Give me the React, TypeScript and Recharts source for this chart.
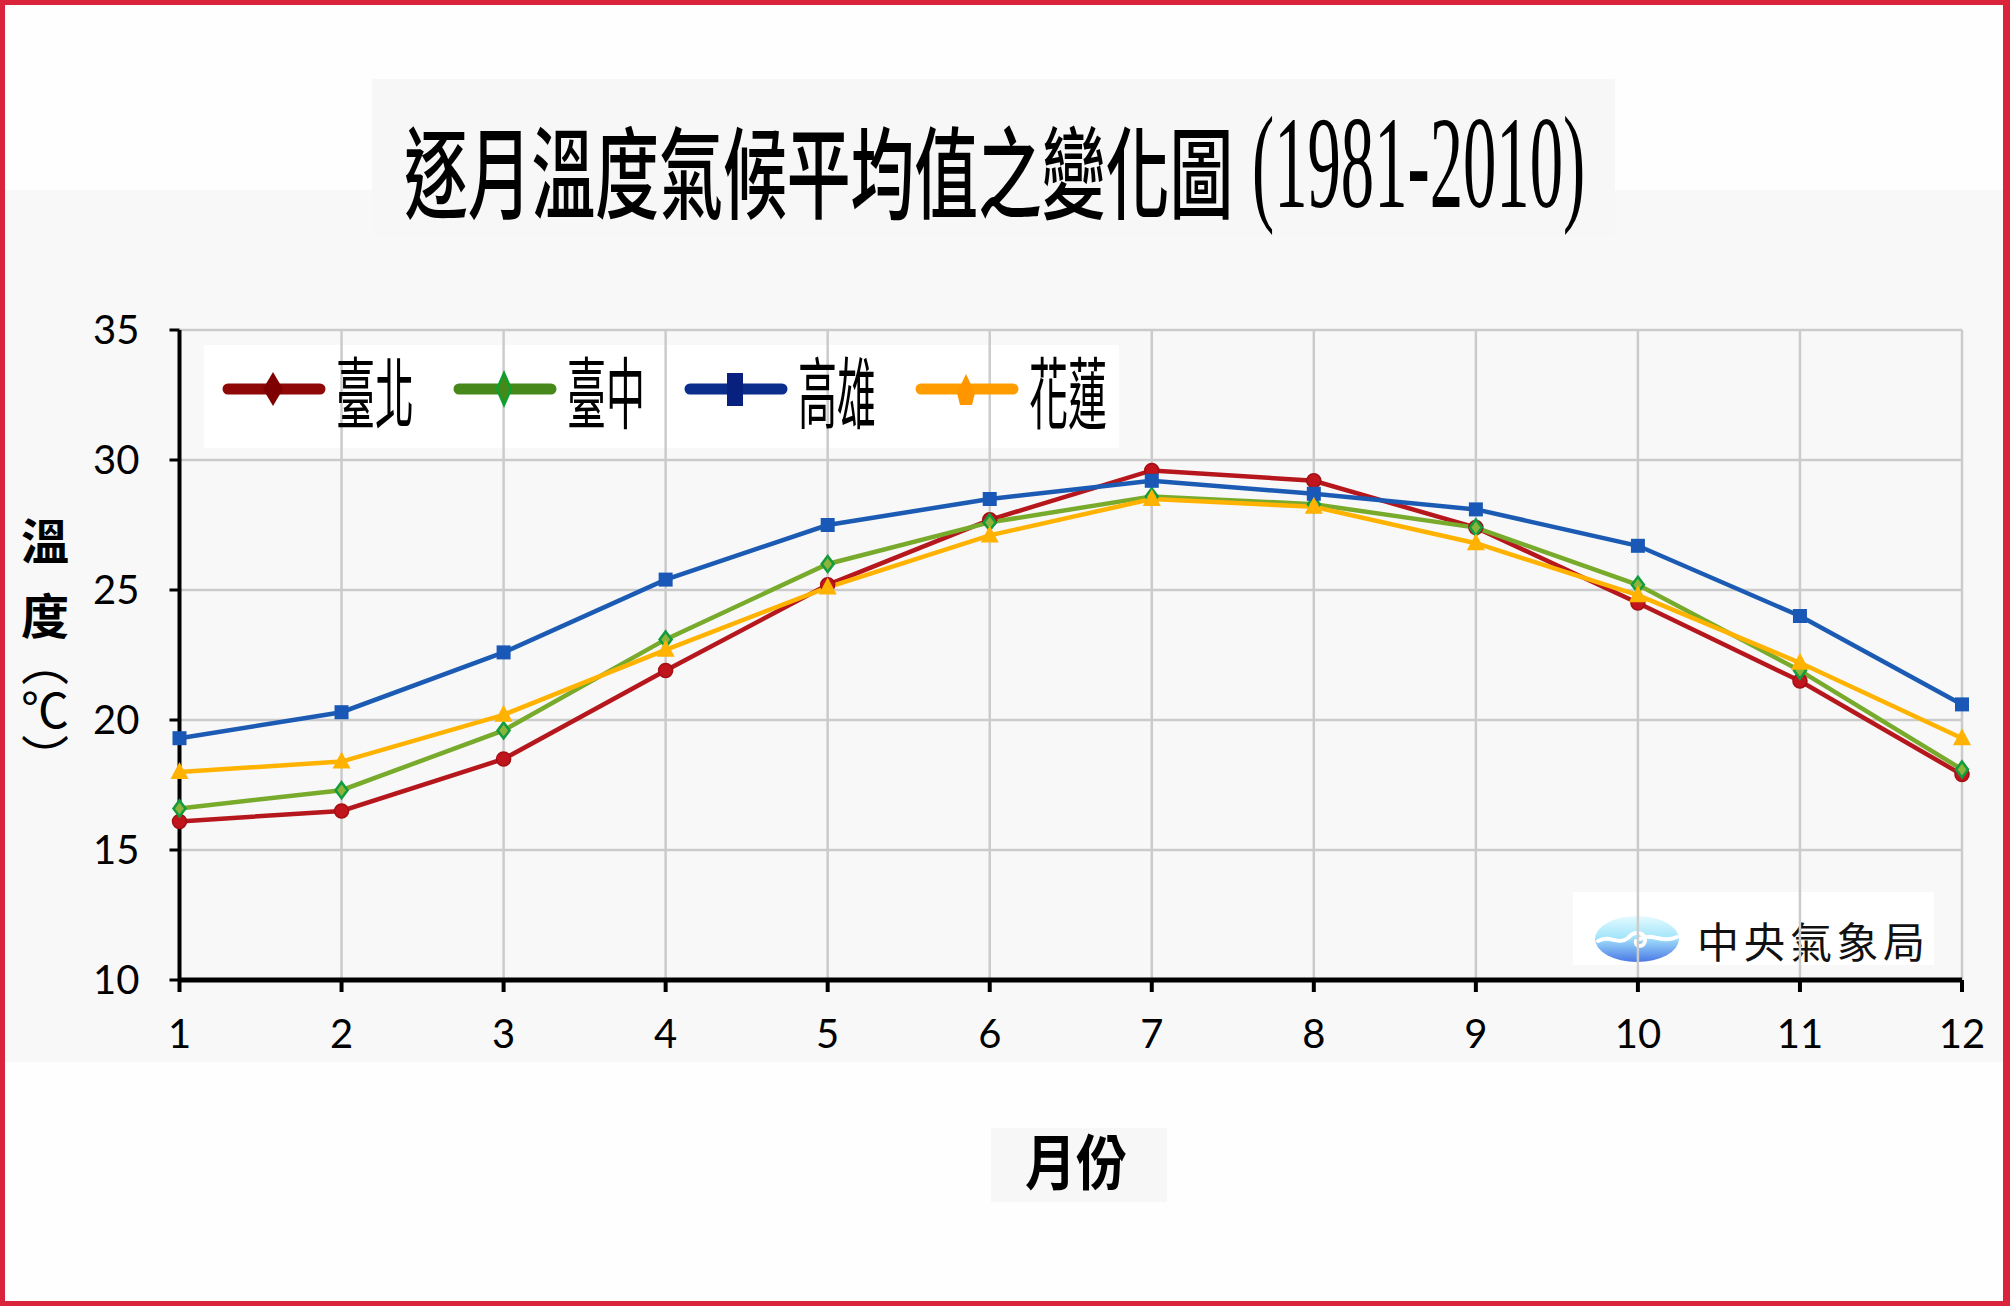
import React from "react";
import { LineChart, Line, XAxis, YAxis, CartesianGrid, Legend } from "recharts";

// ---------- data ----------
const months = [1, 2, 3, 4, 5, 6, 7, 8, 9, 10, 11, 12];
const taipei = [16.1, 16.5, 18.5, 21.9, 25.2, 27.7, 29.6, 29.2, 27.4, 24.5, 21.5, 17.9];
const taichung = [16.6, 17.3, 19.6, 23.1, 26.0, 27.6, 28.6, 28.3, 27.4, 25.2, 21.9, 18.1];
const kaohsiung = [19.3, 20.3, 22.6, 25.4, 27.5, 28.5, 29.2, 28.7, 28.1, 26.7, 24.0, 20.6];
const hualien = [18.0, 18.4, 20.2, 22.7, 25.1, 27.1, 28.5, 28.2, 26.8, 24.8, 22.2, 19.3];
const yTicks = [10, 15, 20, 25, 30, 35];
const seriesNames = ["臺北", "臺中", "高雄", "花蓮"];
const titleText = "逐月溫度氣候平均值之變化圖";
const titleYears = "(1981-2010)";
const xLabel = "月份";
const yLabelMain = ["溫", "度"];
const yLabelUnit = "（℃）";
const agency = "中央氣象局";

const data = months.map((m, i) => ({
  month: m,
  taipei: taipei[i],
  taichung: taichung[i],
  kaohsiung: kaohsiung[i],
  hualien: hualien[i],
}));

// ---------- styles ----------
const CJK = "'Noto Sans CJK TC', 'Noto Sans CJK SC', sans-serif";
const NUM = "Lato, 'Open Sans', sans-serif";
const lineColors = ["#b5171d", "#78aa2c", "#1c5bb3", "#ffb300"];
const legendLineColors = ["#8e0808", "#46891a", "#0b2d8c", "#ff9d00"];

const CircleDot = (p: any) => {
  if (p.cx == null || p.cy == null) return <g key={p.index} />;
  return <circle key={p.index} cx={p.cx} cy={p.cy} r={7} fill="#c0151c" stroke="#a30f15" strokeWidth={1.5} />;
};
const DiamondDot = (p: any) => {
  if (p.cx == null || p.cy == null) return <g key={p.index} />;
  const { cx, cy } = p;
  return (
    <polygon
      key={p.index}
      points={`${cx},${cy - 8} ${cx + 6},${cy} ${cx},${cy + 8} ${cx - 6},${cy}`}
      fill="#8db33a"
      stroke="#129c3d"
      strokeWidth={2.5}
    />
  );
};
const SquareDot = (p: any) => {
  if (p.cx == null || p.cy == null) return <g key={p.index} />;
  return <rect key={p.index} x={p.cx - 7} y={p.cy - 7} width={14} height={14} fill="#1a58b8" />;
};
const TriangleDot = (p: any) => {
  if (p.cx == null || p.cy == null) return <g key={p.index} />;
  const { cx, cy } = p;
  return (
    <polygon key={p.index} points={`${cx},${cy - 10} ${cx + 9},${cy + 7} ${cx - 9},${cy + 7}`} fill="#ffb300" />
  );
};

const legendMarker = (i: number, cx: number, cy: number) => {
  if (i === 0)
    return <polygon points={`${cx},${cy - 17} ${cx + 10},${cy} ${cx},${cy + 17} ${cx - 10},${cy}`} fill="#7e0000" />;
  if (i === 1)
    return (
      <polygon
        points={`${cx},${cy - 16} ${cx + 7},${cy} ${cx},${cy + 16} ${cx - 7},${cy}`}
        fill="#46891a"
        stroke="#0ea02e"
        strokeWidth={2.5}
      />
    );
  if (i === 2) return <rect x={cx - 8} y={cy - 16} width={16} height={33} fill="#08207e" />;
  return (
    <polygon
      points={`${cx},${cy - 15} ${cx + 9},${cy + 4} ${cx + 6},${cy + 16} ${cx - 6},${cy + 16} ${cx - 9},${cy + 4}`}
      fill="#ff9600"
    />
  );
};

const renderLegend = (props: any) => {
  const payload: any[] = props.payload || [];
  return (
    <svg width={915} height={103} style={{ display: "block", overflow: "visible" }}>
      {seriesNames.map((name, i) => {
        const entry = payload.find((e) => e.value === name);
        const label = entry ? entry.value : name;
        const x0 = 24 + i * 231;
        return (
          <g key={name}>
            <line x1={x0} y1={44} x2={x0 + 92} y2={44} stroke={legendLineColors[i]} strokeWidth={11} strokeLinecap="round" />
            {legendMarker(i, x0 + 45, 44)}
            <text
              x={0}
              y={0}
              transform={`translate(${x0 + 108}, 44) scale(0.5, 1)`}
              dominantBaseline="central"
              fontFamily={CJK}
              fontSize={78}
              fontWeight={400}
              fill="#000"
            >
              {label}
            </text>
          </g>
        );
      })}
    </svg>
  );
};

export default function App() {
  return (
    <div style={{ position: "relative", width: 2010, height: 1306, background: "#fefefe", overflow: "hidden" }}>
      <style>{"body{margin:0;}"}</style>
      {/* background layer */}
      <svg width={2010} height={1306} style={{ position: "absolute", left: 0, top: 0 }}>
        <rect x={0} y={190} width={2010} height={872} fill="#f8f8f8" />
        <rect x={372} y={79} width={1243} height={158} fill="#f7f7f7" />
        <rect x={991} y={1128} width={176} height={74} fill="#f7f7f7" />
        {/* legend box */}
        <rect x={204} y={345} width={915} height={103} fill="#ffffff" />
        {/* logo box */}
        <rect x={1573} y={892} width={361} height={73} fill="#ffffff" />
        <defs>
          <linearGradient id="logoGrad" x1="0" y1="0" x2="0" y2="1">
            <stop offset="0%" stopColor="#e4fbff" />
            <stop offset="45%" stopColor="#a6e6fb" />
            <stop offset="100%" stopColor="#4a78e6" />
          </linearGradient>
        </defs>
        <ellipse cx={1637} cy={939} rx={42} ry={23} fill="url(#logoGrad)" />
        <path
          d="M1598,941 C1610,934 1618,946 1628,938 C1634,930 1646,932 1645,941 C1644,948 1634,947 1636,941 M1640,939 C1652,932 1662,944 1677,937"
          stroke="#ffffff"
          strokeWidth={4}
          fill="none"
          strokeLinecap="round"
        />
        <text
          x={1697}
          y={939}
          dominantBaseline="central"
          fontFamily={CJK}
          fontSize={42}
          fill="#111"
          letterSpacing={4.5}
        >
          {agency}
        </text>
      </svg>

      <div style={{ position: "absolute", left: 0, top: 0 }}>
        <LineChart width={2010} height={1306} data={data} margin={{ top: 330, right: 48, bottom: 266, left: 119.5 }}>
          <CartesianGrid stroke="#cbcbcb" strokeWidth={2.5} />
          <XAxis
            dataKey="month"
            type="number"
            domain={[1, 12]}
            ticks={months}
            interval={0}
            height={60}
            axisLine={{ stroke: "#000", strokeWidth: 5 }}
            tickLine={{ stroke: "#000", strokeWidth: 4 }}
            tickSize={12}
            tickMargin={28}
            tick={{ fill: "#000", fontSize: 40, fontFamily: NUM }}
          />
          <YAxis
            type="number"
            domain={[10, 35]}
            ticks={yTicks}
            interval={0}
            width={60}
            axisLine={{ stroke: "#000", strokeWidth: 4 }}
            tickLine={{ stroke: "#000", strokeWidth: 3 }}
            tickSize={10}
            tickMargin={30}
            tick={{ fill: "#000", fontSize: 40, fontFamily: NUM }}
          />
          <Legend
            layout="vertical"
            verticalAlign="middle"
            align="center"
            content={renderLegend}
            wrapperStyle={{ left: 204, top: 345, width: 915, height: 103 }}
          />
          <Line dataKey="taipei" name={seriesNames[0]} stroke={lineColors[0]} strokeWidth={4.5} dot={CircleDot} activeDot={false} isAnimationActive={false} />
          <Line dataKey="taichung" name={seriesNames[1]} stroke={lineColors[1]} strokeWidth={4.5} dot={DiamondDot} activeDot={false} isAnimationActive={false} />
          <Line dataKey="kaohsiung" name={seriesNames[2]} stroke={lineColors[2]} strokeWidth={4.5} dot={SquareDot} activeDot={false} isAnimationActive={false} />
          <Line dataKey="hualien" name={seriesNames[3]} stroke={lineColors[3]} strokeWidth={4.5} dot={TriangleDot} activeDot={false} isAnimationActive={false} />
        </LineChart>
      </div>

      {/* overlay text */}
      <svg width={2010} height={1306} style={{ position: "absolute", left: 0, top: 0, pointerEvents: "none" }}>
        <text
          x={0}
          y={0}
          transform="translate(404, 167) scale(0.638, 1)"
          dominantBaseline="central"
          fontFamily={CJK}
          fontSize={100}
          fontWeight={500}
          fill="#000"
        >
          {titleText}
        </text>
        <text
          x={0}
          y={0}
          transform="translate(1252, 207) scale(0.505, 1)"
          fontFamily="'Liberation Serif', serif"
          fontSize={132}
          fill="#000"
        >
          {titleYears}
        </text>
        {yLabelMain.map((c, i) => (
          <text
            key={i}
            x={45}
            y={[538, 613][i]}
            textAnchor="middle"
            dominantBaseline="central"
            fontFamily={CJK}
            fontSize={48}
            fontWeight={700}
            fill="#000"
          >
            {c}
          </text>
        ))}
        <text
          x={45}
          y={638}
          writingMode="vertical-rl"
          style={{ writingMode: "vertical-rl" } as any}
          fontFamily={CJK}
          fontSize={48}
          fill="#000"
        >
          {yLabelUnit}
        </text>
        <text
          x={0}
          y={0}
          transform="translate(1025, 1159) scale(0.85, 1)"
          dominantBaseline="central"
          fontFamily={CJK}
          fontSize={60}
          fontWeight={700}
          fill="#000"
        >
          {xLabel}
        </text>
        {/* red frame */}
        <rect x={0} y={0} width={2010} height={5} fill="#d9243c" />
        <rect x={0} y={1301} width={2010} height={5} fill="#d9243c" />
        <rect x={0} y={0} width={5} height={1306} fill="#d9243c" />
        <rect x={2003} y={0} width={7} height={1306} fill="#d9243c" />
      </svg>
    </div>
  );
}
